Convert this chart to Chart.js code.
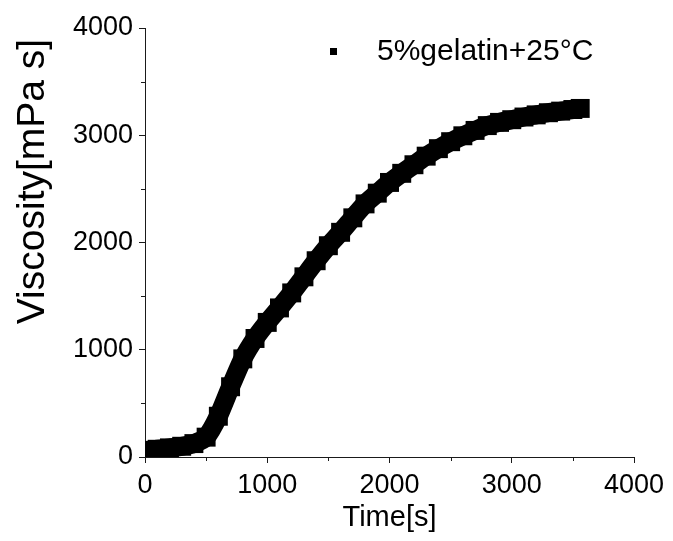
<!DOCTYPE html>
<html>
<head>
<meta charset="utf-8">
<script src="https://cdn.jsdelivr.net/npm/chart.js@4"></script>
<style>
  html, body { margin: 0; padding: 0; background: #fff; }
  #wrap { width: 673px; height: 541px; }
</style>
</head>
<body>
<div id="wrap"><canvas id="viscChart"></canvas></div>
<script>
// time points (s) and viscosity (mPa s)
const timeSec = [0, 100, 200, 300, 400, 500, 600, 700, 800, 900,
    1000, 1100, 1200, 1300, 1400, 1500, 1600, 1700, 1800, 1900,
    2000, 2100, 2200, 2300, 2400, 2500, 2600, 2700, 2800, 2900,
    3000, 3100, 3200, 3300, 3400, 3500, 3560];
const viscosity = [60, 72, 85, 100, 125, 185, 380, 655, 915, 1105,
    1255, 1390, 1530, 1680, 1830, 1970, 2095, 2230, 2360, 2460,
    2560, 2645, 2725, 2805, 2875, 2940, 2995, 3045, 3090, 3120,
    3145, 3170, 3190, 3210, 3225, 3240, 3250];
const xTicks = [0, 1000, 2000, 3000, 4000];
const yTicks = [0, 1000, 2000, 3000, 4000];
const minorTicks = [500, 1500, 2500, 3500];
const seriesLabel = '5%gelatin+25°C';

const FONT = 'Liberation Sans, Arial, sans-serif';
const AXIS_COLOR = '#1a1a1a';

// short unlabeled ticks in between the labeled ones
const minorTickPlugin = {
    id: 'minorTicks',
    afterDraw(chart) {
        const ctx = chart.ctx;
        const xs = chart.scales.x, ys = chart.scales.y;
        ctx.save();
        ctx.strokeStyle = AXIS_COLOR;
        ctx.lineWidth = 1;
        ctx.beginPath();
        minorTicks.forEach(v => {
            const px = Math.round(xs.getPixelForValue(v)) + 0.5;
            ctx.moveTo(px, xs.top);
            ctx.lineTo(px, xs.top + 4);
            const py = Math.round(ys.getPixelForValue(v)) + 0.5;
            ctx.moveTo(ys.right, py);
            ctx.lineTo(ys.right - 4, py);
        });
        ctx.stroke();
        ctx.restore();
    }
};

// legend sits inside the plot, like the original figure
const insideLegendPlugin = {
    id: 'insideLegend',
    afterDraw(chart) {
        const ctx = chart.ctx;
        const area = chart.chartArea;
        const ds = chart.data.datasets[0];
        ctx.save();
        ctx.fillStyle = ds.pointBackgroundColor;
        ctx.fillRect(area.left + 185, area.top + 20, 7, 7);
        ctx.font = '30px ' + FONT;
        ctx.textBaseline = 'middle';
        ctx.fillStyle = '#000';
        ctx.fillText(ds.label, area.left + 232, area.top + 24);
        ctx.restore();
    }
};

const plainNumber = v => String(v);

const ctx = document.getElementById('viscChart').getContext('2d');
const chart = new Chart(ctx, {
    type: 'line',
    data: {
        datasets: [{
            label: seriesLabel,
            data: timeSec.map((t, i) => ({ x: t, y: viscosity[i] })),
            borderColor: '#000',
            borderWidth: 19,
            pointStyle: 'rect',
            pointRadius: 13.4,
            pointBorderWidth: 0,
            pointBackgroundColor: '#000',
            tension: 0.2,
            clip: 0
        }]
    },
    options: {
        responsive: true,
        maintainAspectRatio: false,
        animation: false,
        events: [],
        layout: { padding: { top: 28, right: 39, left: 10, bottom: 6 } },
        plugins: {
            legend: { display: false },
            tooltip: { enabled: false }
        },
        scales: {
            x: {
                type: 'linear',
                min: 0,
                max: 4000,
                afterBuildTicks: s => { s.ticks = xTicks.map(v => ({ value: v })); },
                afterFit: s => { s.height = 78; },
                border: { display: true, color: AXIS_COLOR, width: 1 },
                grid: { drawOnChartArea: false, drawTicks: true, tickLength: 6, color: AXIS_COLOR },
                ticks: { font: { family: FONT, size: 27 }, color: '#000', padding: 6, maxRotation: 0, callback: plainNumber },
                title: { display: true, text: 'Time[s]', font: { family: FONT, size: 29 }, color: '#000', padding: { top: 0, bottom: 0 } }
            },
            y: {
                type: 'linear',
                min: 0,
                max: 4000,
                afterBuildTicks: s => { s.ticks = yTicks.map(v => ({ value: v })); },
                afterFit: s => { s.width = 135; },
                border: { display: true, color: AXIS_COLOR, width: 1 },
                grid: { drawOnChartArea: false, drawTicks: true, tickLength: 6, color: AXIS_COLOR },
                ticks: { font: { family: FONT, size: 27 }, color: '#000', padding: 6, callback: plainNumber },
                title: { display: true, text: 'Viscosity[mPa s] ', font: { family: FONT, size: 39 }, color: '#000', align: 'end', padding: { top: 0, bottom: 0 } }
            }
        }
    },
    plugins: [minorTickPlugin, insideLegendPlugin]
});
</script>
</body>
</html>
